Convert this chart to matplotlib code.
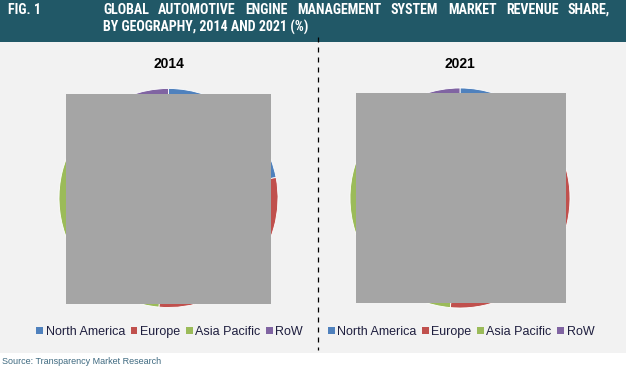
import matplotlib
matplotlib.use("Agg")
import matplotlib.pyplot as plt
from matplotlib.patches import Rectangle, Patch
from matplotlib.lines import Line2D

# data
years = ["2014", "2021"]
regions = ["North America", "Europe", "Asia Pacific", "RoW"]
share_2014 = [22.0, 29.4, 36.6, 12.0]
share_2021 = [20.9, 30.5, 37.6, 11.0]
colors = ["#4F81BD", "#C0504D", "#9BBB59", "#8064A2"]

W, H = 626, 368
fig = plt.figure(figsize=(W / 100, H / 100), dpi=100)
fig.patch.set_facecolor("white")

narrow = ["Roboto Condensed", "PT Sans Narrow", "Liberation Sans"]


def fx(x):
    return x / W


def fy(y):
    return 1 - y / H


# backgrounds
fig.add_artist(Rectangle((0, fy(353)), 1, fy(42) - fy(353), transform=fig.transFigure,
                         facecolor="#F2F2F2", edgecolor="none", zorder=0))
fig.add_artist(Rectangle((0, fy(42)), 1, 1 - fy(42), transform=fig.transFigure,
                         facecolor="#215867", edgecolor="none", zorder=0))

# header
hdr = dict(color="white", fontweight="bold", family=narrow, va="center", ha="left")
line2 = fig.text(fx(103), fy(27), "BY GEOGRAPHY, 2014 AND 2021 (%)", fontsize=9.5, **hdr)
fig.canvas.draw()
r = fig.canvas.get_renderer()
fs = 1.1 * 9.5 * 188 / line2.get_window_extent(r).width
line2.set_fontsize(fs)
fig.text(fx(8), fy(10), "FIG. 1", fontsize=fs, **hdr)
words = "GLOBAL AUTOMOTIVE ENGINE MANAGEMENT SYSTEM MARKET REVENUE SHARE,".split()
texts = [fig.text(0, fy(10), w, fontsize=fs, **hdr) for w in words]
fig.canvas.draw()
widths = [t.get_window_extent(r).width for t in texts]
x0, x1 = 103, 610
gap = (x1 - x0 - sum(widths)) / (len(words) - 1)
x = x0
for t, w in zip(texts, widths):
    t.set_x(fx(x))
    x += w + gap

# divider
fig.add_artist(Line2D([fx(318), fx(318)], [fy(37), fy(350)], transform=fig.transFigure,
                      color="black", lw=0.9, linestyle=(0, (4, 4)), zorder=3))

# pies
pies = [(168.5, 198, 109.5, share_2014, (66, 94, 271, 304)),
        (460, 198, 110, share_2021, (356, 93, 566, 303))]
for (cx, cy, rad, vals, box), yr in zip(pies, years):
    ax = fig.add_axes([fx(cx - rad), fy(cy + rad), (2 * rad) / W, (2 * rad) / H])
    ax.pie(vals, colors=colors, startangle=90, counterclock=False, radius=1,
           wedgeprops=dict(edgecolor="white", linewidth=0.6))
    ax.set_xlim(-1, 1)
    ax.set_ylim(-1, 1)
    ax.set_aspect("auto")
    ax.axis("off")
    bx0, by0, bx1, by1 = box
    fig.add_artist(Rectangle((fx(bx0), fy(by1)), (bx1 - bx0) / W, (by1 - by0) / H,
                             transform=fig.transFigure, facecolor="#A5A5A5",
                             edgecolor="none", zorder=2))
    fig.text(fx(cx), fy(64), yr, fontsize=10, fontweight="bold", family="Liberation Sans",
             ha="center", va="center", color="black")
    handles = [Patch(facecolor=c, edgecolor="none") for c in colors]
    fig.legend(handles, regions, loc="center", bbox_to_anchor=(fx(cx + 1), fy(332)),
               ncol=4, frameon=False, handlelength=0.55, handleheight=0.55,
               handletextpad=0.2, columnspacing=0.45, borderaxespad=0,
               prop=dict(family="Liberation Sans", size=9), labelcolor="#1F1F3F")

fig.text(fx(2), fy(362), "Source: Transparency Market Research", fontsize=6.5,
         family="Liberation Sans", color="#3F6A80", ha="left", va="center")

fig.savefig("out.png", dpi=100, facecolor="white")
